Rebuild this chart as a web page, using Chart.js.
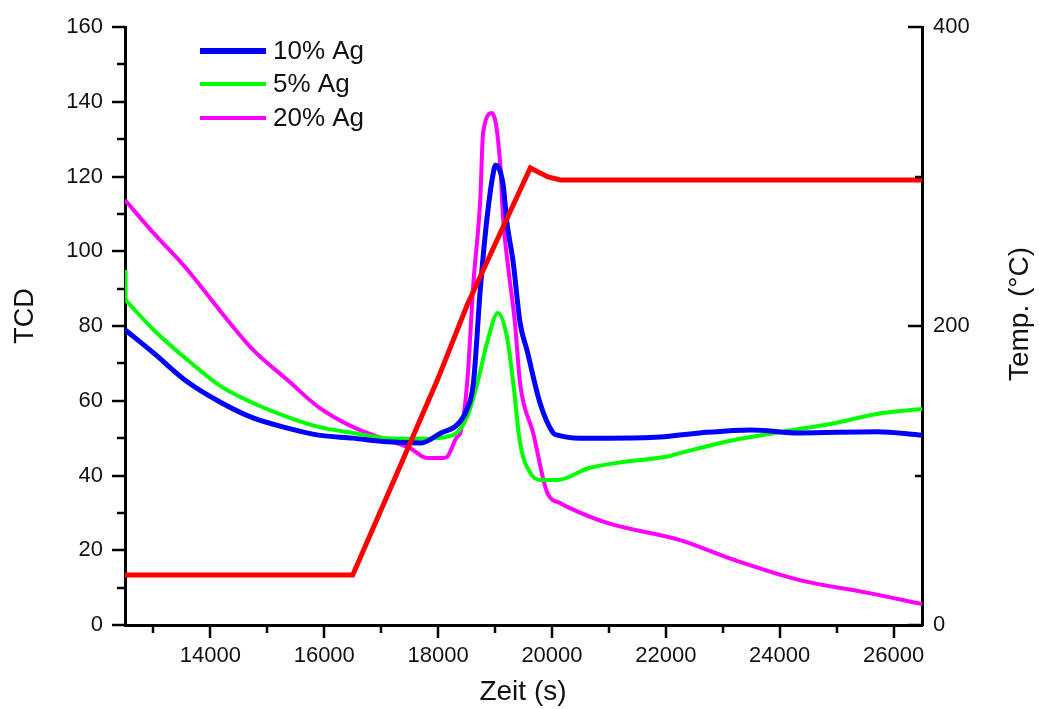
<!DOCTYPE html>
<html>
<head>
<meta charset="utf-8">
<script src="https://cdn.jsdelivr.net/npm/chart.js@4.4.1/dist/chart.umd.min.js"></script>
<style>
html,body{margin:0;padding:0;background:#fff;}
#wrap{width:1039px;height:709px;}
</style>
</head>
<body>
<div id="wrap"><canvas id="c" width="1039" height="709"></canvas></div>
<script>
// ---- data ----
const seriesLabels = ['10% Ag', '5% Ag', '20% Ag'];

const tBlue = [12500,13000,13600,14200,14750,15350,15900,16500,17100,17700,18050,18330,18500,18620,18740,18860,18970,19010,19140,19210,19320,19440,19560,19790,20020,20100,20500,21000,21900,22600,23500,24350,25700,26500];
const blueVals = [79,72.8,65,59.4,55.4,52.7,50.8,50,49,48.7,51.4,53.5,57.5,64.7,89.6,109,121,123,118,107.6,96.9,80.8,73.6,59.4,51.4,50.8,50,50,50.3,51.4,52.2,51.4,51.7,50.8];

// initial vertical drop of the 5% Ag trace at the start of the record
const tGreenStart = [12500,12510];
const greenStartVals = [95,87];
const tGreen = [12510,13000,13600,14200,14750,15350,15900,16500,17100,17700,18260,18510,18690,18860,19050,19210,19320,19440,19620,19800,20100,20650,21250,22000,22250,23200,24050,24950,25800,26500];
const greenVals = [87,79,70.9,63.7,59.4,55.7,53,51.4,50,49.8,50.8,55.7,64.7,75.5,83.5,77,64.7,48.7,40.7,38.8,38.8,42,43.6,45,46,49.5,51.7,54,56.7,57.8];

const tMagenta = [12500,13000,13600,14200,14750,15350,15900,16500,17100,17500,17800,18090,18160,18330,18390,18510,18620,18740,18790,18950,19090,19140,19230,19350,19440,19670,19920,20150,20270,20970,22250,23200,24350,25550,26500];
const magentaVals = [113.7,104.9,95,83.5,73.6,65.6,58.3,53,49.5,47.4,44.7,44.7,45,50.3,51.4,64.7,91.5,113.7,131.6,137,123.6,109,95.8,80.8,64.7,51.4,35.3,32.6,31.6,27.3,22.7,17.4,12,8.6,5.6];

const tTemp = [12500,16500,17330,18000,18510,19090,19620,19930,20150,26500];
const tempVals = [33.4,33.4,106,165,214,262,305.7,299.7,297.7,297.7];

// tick values
const xMajorTicks = [14000,16000,18000,20000,22000,24000,26000];
const xMinorTicks = [13000,15000,17000,19000,21000,23000,25000];
const yMajorTicks = [0,20,40,60,80,100,120,140,160];
const yMinorTicks = [10,30,50,70,90,110,130,150];
const y2MajorTicks = [0,200,400];
const y2MinorTicks = [100,300];

const xTitle = 'Zeit (s)';
const yTitle = 'TCD';
const y2Title = 'Temp. (°C)';

// ---- build ----
const pts = (t, v) => t.map((x, i) => ({x: x, y: v[i]}));
const FONT = 'Liberation Sans, Arial, sans-serif';
const asTicks = arr => arr.map(v => ({value: v}));

const decor = {
  id: 'decor',
  afterDraw(chart) {
    const {ctx, chartArea: a} = chart;
    const x = chart.scales.x, y = chart.scales.y, y2 = chart.scales.y2;
    ctx.save();
    ctx.strokeStyle = '#000';
    ctx.lineWidth = 2.5;
    ctx.lineCap = 'butt';
    const seg = (x1, y1, x2, y2_) => { ctx.beginPath(); ctx.moveTo(x1, y1); ctx.lineTo(x2, y2_); ctx.stroke(); };
    xMajorTicks.forEach(v => { const p = Math.round(x.getPixelForValue(v)); seg(p, a.bottom, p, a.bottom + 13); });
    xMinorTicks.forEach(v => { const p = Math.round(x.getPixelForValue(v)); seg(p, a.bottom, p, a.bottom + 8); });
    yMajorTicks.forEach(v => { const p = Math.round(y.getPixelForValue(v)); seg(a.left - 13, p, a.left, p); });
    yMinorTicks.forEach(v => { const p = Math.round(y.getPixelForValue(v)); seg(a.left - 8, p, a.left, p); });
    y2MajorTicks.forEach(v => { const p = Math.round(y2.getPixelForValue(v)); seg(a.right - 14, p, a.right, p); });
    y2MinorTicks.forEach(v => { const p = Math.round(y2.getPixelForValue(v)); seg(a.right - 7, p, a.right, p); });

    // axis titles
    ctx.fillStyle = '#111';
    ctx.textAlign = 'center';
    ctx.textBaseline = 'middle';
    ctx.font = '28px ' + FONT;
    ctx.fillText(xTitle, 523, 692);
    ctx.save(); ctx.translate(1020, 314); ctx.rotate(-Math.PI / 2); ctx.fillText(y2Title, 0, 0); ctx.restore();
    ctx.font = '27px ' + FONT;
    ctx.save(); ctx.translate(26, 316); ctx.rotate(-Math.PI / 2); ctx.fillText(yTitle, 0, 0); ctx.restore();

    // legend
    const legY = [51, 84, 118];
    const legDs = [1, 3, 4];
    ctx.textAlign = 'left';
    ctx.font = '26px ' + FONT;
    for (let i = 0; i < 3; i++) {
      const ds = chart.data.datasets[legDs[i]];
      ctx.strokeStyle = ds.borderColor;
      ctx.lineWidth = i === 0 ? 6 : 4;
      seg(200, legY[i], 266, legY[i]);
      ctx.fillStyle = '#111';
      ctx.fillText(ds.label, 273, legY[i] + 1);
    }
    ctx.restore();
  }
};

new Chart(document.getElementById('c'), {
  type: 'line',
  data: {
    datasets: [
      {label: 'Temp.', data: pts(tTemp, tempVals), yAxisID: 'y2', borderColor: '#ff0000', borderWidth: 5, tension: 0, pointRadius: 0},
      {label: seriesLabels[0], data: pts(tBlue, blueVals), yAxisID: 'y', borderColor: '#0000ff', borderWidth: 5, cubicInterpolationMode: 'monotone', pointRadius: 0},
      {label: '', data: pts(tGreenStart, greenStartVals), yAxisID: 'y', borderColor: '#00ff00', borderWidth: 4, tension: 0, pointRadius: 0},
      {label: seriesLabels[1], data: pts(tGreen, greenVals), yAxisID: 'y', borderColor: '#00ff00', borderWidth: 4, cubicInterpolationMode: 'monotone', pointRadius: 0},
      {label: seriesLabels[2], data: pts(tMagenta, magentaVals), yAxisID: 'y', borderColor: '#ff00ff', borderWidth: 4, cubicInterpolationMode: 'monotone', pointRadius: 0}
    ]
  },
  options: {
    responsive: false,
    animation: false,
    devicePixelRatio: 1,
    layout: {padding: {top: 27, left: 0, right: 0, bottom: 0}},
    plugins: {legend: {display: false}, tooltip: {enabled: false}},
    scales: {
      x: {
        type: 'linear', min: 12500, max: 26500,
        afterFit: s => { s.height = 84; },
        afterBuildTicks: s => { s.ticks = asTicks(xMajorTicks); },
        grid: {display: true, drawOnChartArea: false, drawTicks: true, tickLength: 12, color: 'rgba(0,0,0,0)'},
        border: {display: true, color: '#000', width: 3},
        ticks: {autoSkip: false, maxRotation: 0, minRotation: 0, padding: 6, color: '#111', font: {family: FONT, size: 22},
          callback: v => String(v)}
      },
      y: {
        type: 'linear', position: 'left', min: 0, max: 160,
        afterFit: s => { s.width = 125; },
        afterBuildTicks: s => { s.ticks = asTicks(yMajorTicks); },
        grid: {display: true, drawOnChartArea: false, drawTicks: true, tickLength: 12, color: 'rgba(0,0,0,0)'},
        border: {display: true, color: '#000', width: 3},
        ticks: {autoSkip: false, padding: 10, color: '#111', font: {family: FONT, size: 22},
          callback: v => String(v)}
      },
      y2: {
        type: 'linear', position: 'right', min: 0, max: 400,
        afterFit: s => { s.width = 117; },
        afterBuildTicks: s => { s.ticks = asTicks(y2MajorTicks); },
        grid: {display: false, drawOnChartArea: false, drawTicks: false},
        border: {display: true, color: '#000', width: 3},
        ticks: {autoSkip: false, padding: 11, color: '#111', font: {family: FONT, size: 22},
          callback: v => String(v)}
      }
    }
  },
  plugins: [decor]
});
</script>
</body>
</html>
